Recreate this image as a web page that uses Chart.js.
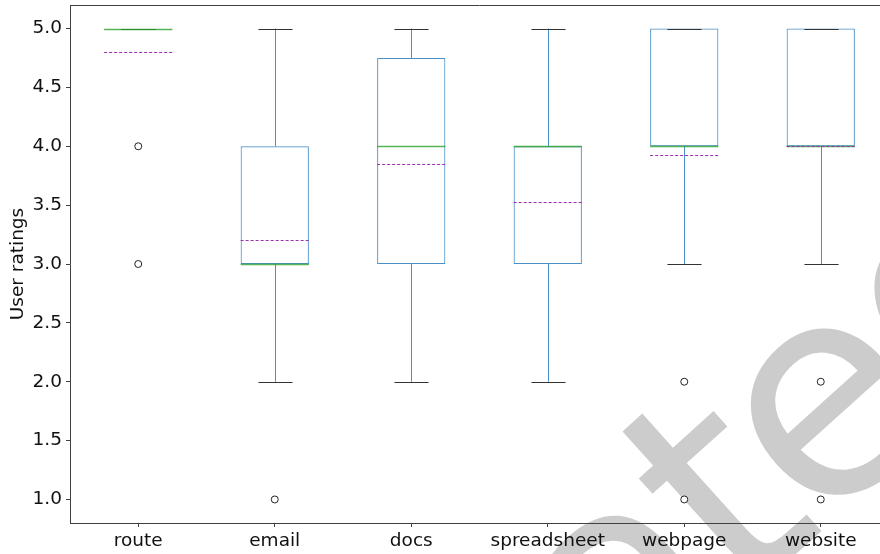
<!DOCTYPE html>
<html>
<head>
<meta charset="utf-8">
<script src="https://cdn.jsdelivr.net/npm/chart.js@4.4.1/dist/chart.umd.min.js"></script>
<style>
    html, body { margin: 0; padding: 0; background: #fff; overflow: hidden; }
    #wrap { position: relative; width: 894px; height: 554px; }
</style>
</head>
<body>
<div id="wrap"><canvas id="ratingsBox"></canvas></div>
<script>
const categories = ["route", "email", "docs", "spreadsheet", "webpage", "website"];
const q1Values = [5, 3, 3, 3, 4, 4];
const q3Values = [5, 4, 4.75, 4, 5, 5];
const medianValues = [5, 3, 4, 4, 4, 4];
const meanValues = [4.8, 3.2, 3.85, 3.53, 3.93, 4.0];
const whiskerLow = [5, 2, 2, 2, 3, 3];
const whiskerHigh = [5, 5, 5, 5, 5, 5];
const outlierValues = [[4, 3], [1], [], [], [2, 1], [2, 1]];
const yTicks = [1.0, 1.5, 2.0, 2.5, 3.0, 3.5, 4.0, 4.5, 5.0];

const FONT = "'DejaVu Sans', sans-serif";
const AXIS_COLOR = "#404040";

// flatten outliers into points on the category axis
const outlierPoints = [];
outlierValues.forEach((vals, i) => {
    vals.forEach(v => outlierPoints.push({ x: categories[i], y: v }));
});

// whiskers, caps, medians and means drawn on top of the boxes
const boxExtras = {
    id: "boxExtras",
    afterDatasetDraw(chart, args) {
        if (args.index !== 0) return;
        const ctx = chart.ctx;
        const y = chart.scales.y;
        const bars = chart.getDatasetMeta(0).data;
        ctx.save();
        bars.forEach((bar, i) => {
            const cx = Math.round(bar.x) + 0.5;
            const half = bar.width / 2;
            const line = (x1, y1, x2, y2) => {
                ctx.beginPath();
                ctx.moveTo(x1, y1);
                ctx.lineTo(x2, y2);
                ctx.stroke();
            };
            // whiskers
            ctx.strokeStyle = "#4a90c8";
            ctx.lineWidth = 1;
            ctx.setLineDash([]);
            line(cx, y.getPixelForValue(q3Values[i]), cx, y.getPixelForValue(whiskerHigh[i]));
            line(cx, y.getPixelForValue(q1Values[i]), cx, y.getPixelForValue(whiskerLow[i]));
            // caps
            ctx.strokeStyle = "#333";
            const capHi = Math.round(y.getPixelForValue(whiskerHigh[i])) + 0.5;
            const capLo = Math.round(y.getPixelForValue(whiskerLow[i])) + 0.5;
            line(cx - half / 2, capHi, cx + half / 2, capHi);
            line(cx - half / 2, capLo, cx + half / 2, capLo);
            // median
            ctx.strokeStyle = "rgba(44, 160, 44, 0.8)";
            ctx.lineWidth = 1.3;
            const my = Math.round(y.getPixelForValue(medianValues[i])) + 0.5;
            line(bar.x - half, my, bar.x + half, my);
            // mean
            ctx.strokeStyle = "#9b30b0";
            ctx.lineWidth = 1;
            ctx.setLineDash([3, 2]);
            const mn = Math.round(y.getPixelForValue(meanValues[i])) + 0.5;
            line(bar.x - half, mn, bar.x + half, mn);
        });
        ctx.restore();
    }
};

// top spine and the grey watermark behind everything
const frame = {
    id: "frame",
    beforeDraw(chart) {
        const ctx = chart.ctx;
        const em = 295;
        const spacing = -12;
        ctx.save();
        ctx.font = em + "px " + FONT;
        ctx.letterSpacing = spacing + "px";
        const word = "Generated";
        const lead = ctx.measureText("Generat").width;
        const ew = ctx.measureText("e").width - spacing;
        // anchor on the bar of the visible "e"
        ctx.translate(828, 410);
        ctx.rotate(-42 * Math.PI / 180);
        ctx.fillStyle = "#cccccc";
        ctx.fillText(word, -(lead + ew / 2), 0.29 * em);
        ctx.restore();
    },
    afterDraw(chart) {
        const { ctx, chartArea } = chart;
        ctx.save();
        ctx.strokeStyle = AXIS_COLOR;
        ctx.lineWidth = 1;
        ctx.beginPath();
        ctx.moveTo(chartArea.left, chartArea.top + 0.5);
        ctx.lineTo(chartArea.right, chartArea.top + 0.5);
        ctx.stroke();
        ctx.restore();
    }
};

const boxctx = document.getElementById("ratingsBox").getContext("2d");
new Chart(boxctx, {
    type: "bar",
    data: {
        labels: categories,
        datasets: [{
            label: "box",
            data: q1Values.map((q1, i) => [q1, q3Values[i]]),
            backgroundColor: "rgba(0,0,0,0)",
            borderColor: "#4a90c8",
            borderWidth: 1,
            borderSkipped: false,
            barPercentage: 0.5,
            categoryPercentage: 1.0
        }, {
            type: "line",
            label: "outliers",
            data: outlierPoints,
            showLine: false,
            pointRadius: 3.5,
            pointBorderWidth: 1,
            pointBorderColor: "#222",
            pointBackgroundColor: "#fff"
        }]
    },
    options: {
        responsive: true,
        maintainAspectRatio: false,
        animation: false,
        layout: { padding: { top: 4, left: 0, right: 0, bottom: 0 } },
        scales: {
            x: {
                offset: true,
                grid: { display: true, drawOnChartArea: false, offset: false, tickLength: 4, color: AXIS_COLOR },
                border: { color: AXIS_COLOR },
                ticks: { color: "#111", font: { family: FONT, size: 18.5 }, padding: 3, maxRotation: 0 },
                afterFit: s => { s.height = 31; s.paddingLeft = 0; s.paddingRight = 0; }
            },
            y: {
                min: 0.8,
                max: 5.2,
                afterBuildTicks: s => { s.ticks = yTicks.map(v => ({ value: v })); },
                grid: { display: true, drawOnChartArea: false, tickLength: 4, color: AXIS_COLOR },
                border: { color: AXIS_COLOR },
                ticks: {
                    color: "#111",
                    font: { family: FONT, size: 18.5 },
                    padding: 4,
                    callback: v => Number(v).toFixed(1)
                },
                title: {
                    display: true,
                    text: "User ratings",
                    color: "#111",
                    font: { family: FONT, size: 18.5 },
                    padding: { top: 7, bottom: 0 }
                },
                afterFit: s => { s.width = 70; s.paddingTop = 0; s.paddingBottom = 0; }
            }
        },
        plugins: {
            legend: { display: false },
            tooltip: { enabled: false },
            title: { display: false }
        }
    },
    plugins: [boxExtras, frame]
});
</script>
</body>
</html>
